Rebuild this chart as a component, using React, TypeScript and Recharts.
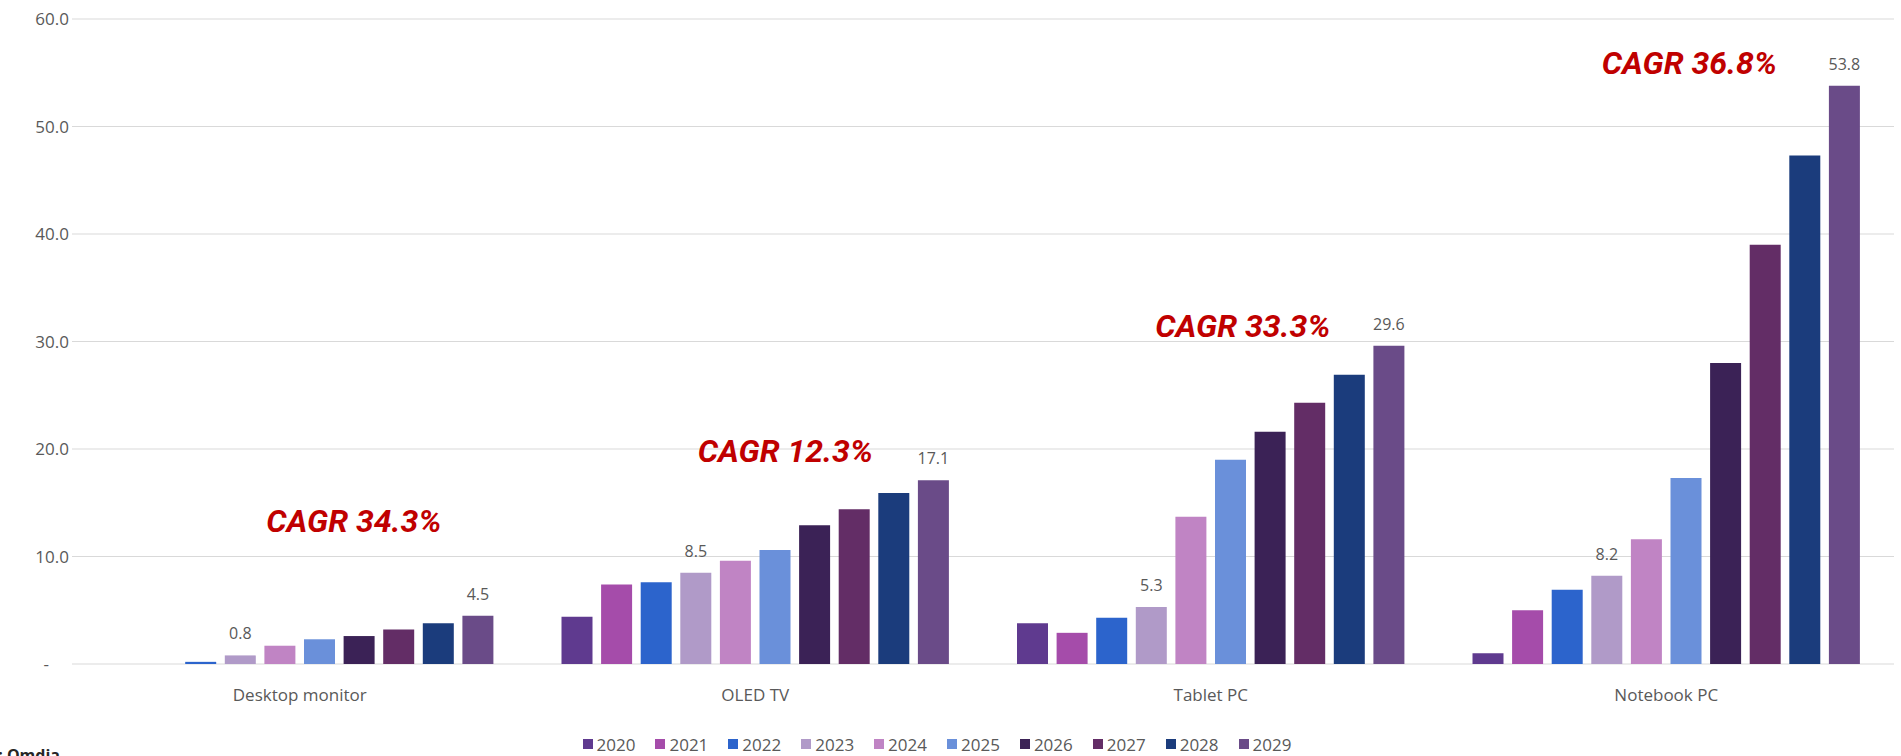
import React from 'react';
import { BarChart, Bar, XAxis, YAxis, CartesianGrid, Legend, LabelList, ReferenceDot } from 'recharts';

const categories = ['Desktop monitor', 'OLED TV', 'Tablet PC', 'Notebook PC'];
const years = ['2020', '2021', '2022', '2023', '2024', '2025', '2026', '2027', '2028', '2029'];

// values per category, one per year
const desktopMonitor = [0, 0, 0.2, 0.8, 1.7, 2.3, 2.6, 3.2, 3.8, 4.5];
const oledTv = [4.4, 7.4, 7.6, 8.5, 9.6, 10.6, 12.9, 14.4, 15.9, 17.1];
const tabletPc = [3.8, 2.9, 4.3, 5.3, 13.7, 19.0, 21.6, 24.3, 26.9, 29.6];
const notebookPc = [1.0, 5.0, 6.9, 8.2, 11.6, 17.3, 28.0, 39.0, 47.3, 53.8];

const cagrLabels = ['CAGR 34.3%', 'CAGR 12.3%', 'CAGR 33.3%', 'CAGR 36.8%'];
const cagrLevels = [13.3, 19.8, 31.4, 55.9];
const labeledYears = ['2023', '2029'];
const yTicks = [0, 10, 20, 30, 40, 50, 60];

const yearColors = [
  '#5f3a8f', '#a54caa', '#2c64cc', '#b09ac8', '#c084c4',
  '#6a90da', '#3b2256', '#632d66', '#1b3c7c', '#6a4b88',
];
// horizontal nudge of each CAGR note from its category centre (px)
const cagrShiftX = [54, 30, 32, 23];

const seriesByCategory = [desktopMonitor, oledTv, tabletPc, notebookPc];
const chartData = categories.map((name, i) => {
  const row: Record<string, string | number> = { name };
  years.forEach((y, j) => {
    row[y] = seriesByCategory[i][j];
  });
  return row;
});

const FONT = '"Open Sans", sans-serif';

const YTick = ({ x, y, payload }: any) => {
  const zero = payload.value === 0;
  return (
    <text x={zero ? x - 20 : x} y={y} dy={6} textAnchor="end" fill="#595959" fontSize={17} fontFamily={FONT}>
      {zero ? '-' : Number(payload.value).toFixed(1)}
    </text>
  );
};

const LegendContent = () => (
  <div
    style={{
      display: 'flex',
      justifyContent: 'center',
      alignItems: 'center',
      height: 24,
      paddingRight: 20,
      boxSizing: 'border-box',
      fontFamily: FONT,
      fontSize: 17,
      color: '#595959',
    }}
  >
    {years.map((y, i) => (
      <div key={y} style={{ display: 'flex', alignItems: 'center', marginRight: i < years.length - 1 ? 20 : 0 }}>
        <span style={{ display: 'inline-block', width: 10, height: 10, background: yearColors[i], marginRight: 4 }} />
        <span>{y}</span>
      </div>
    ))}
  </div>
);

const cagrLabel = (text: string, shift: number) => (props: any) => {
  const vb = props.viewBox || {};
  const cx = (vb.x ?? 0) + (vb.width ?? 0) / 2;
  const cy = (vb.y ?? 0) + (vb.height ?? 0) / 2;
  return (
    <text
      x={cx + shift}
      y={cy + 11}
      textAnchor="middle"
      fill="#c00000"
      fontSize={32}
      fontWeight={700}
      fontStyle="italic"
      fontFamily="Roboto, sans-serif"
    >
      {text}
    </text>
  );
};

export default function App() {
  return (
    <div style={{ position: 'absolute', left: 0, top: 0, width: 1901, height: 756, overflow: 'hidden', background: '#ffffff' }}>
      <BarChart
        width={1901}
        height={756}
        data={chartData}
        margin={{ top: 19, right: 7, left: 0, bottom: 0 }}
        barSize={31}
        barGap={8.6}
        style={{ fontFamily: FONT }}
      >
        <CartesianGrid vertical={false} stroke="#d9d9d9" />
        <XAxis
          dataKey="name"
          height={68}
          axisLine={false}
          tickLine={false}
          tickSize={0}
          tickMargin={25}
          tick={{ fill: '#595959', fontSize: 17, fontFamily: FONT }}
        />
        <YAxis
          width={72}
          domain={[0, 60]}
          ticks={yTicks}
          axisLine={false}
          tickLine={false}
          tickSize={0}
          tickMargin={3}
          tick={<YTick />}
        />
        <Legend verticalAlign="bottom" content={() => <LegendContent />} />
        {years.map((y, i) => (
          <Bar key={y} dataKey={y} fill={yearColors[i]} isAnimationActive={false}>
            {labeledYears.includes(y) && (
              <LabelList
                dataKey={y}
                position="top"
                offset={16}
                formatter={(v: any) => Number(v).toFixed(1)}
                fill="#595959"
                fontSize={16}
                fontFamily={FONT}
              />
            )}
          </Bar>
        ))}
        {categories.map((c, i) => (
          <ReferenceDot
            key={c}
            x={c}
            y={cagrLevels[i]}
            r={0}
            fill="none"
            stroke="none"
            label={cagrLabel(cagrLabels[i], cagrShiftX[i])}
          />
        ))}
      </BarChart>
      <div
        style={{
          position: 'absolute',
          right: 1841,
          top: 744,
          whiteSpace: 'nowrap',
          fontFamily: FONT,
          fontSize: 16,
          fontWeight: 700,
          color: '#262626',
        }}
      >
        Source by: Omdia
      </div>
    </div>
  );
}
